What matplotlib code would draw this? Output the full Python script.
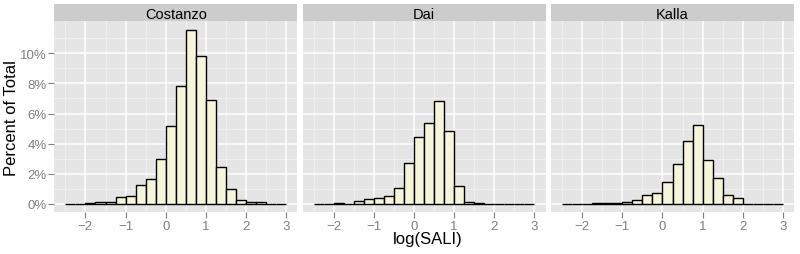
import matplotlib
matplotlib.use("Agg")
import matplotlib.pyplot as plt
from matplotlib.ticker import FuncFormatter

plt.rcParams['font.family'] = ['Liberation Sans', 'DejaVu Sans']

# bin left edges, width 0.25
bin_left = [-2.5, -2.25, -2.0, -1.75, -1.5, -1.25, -1.0, -0.75, -0.5, -0.25,
            0.0, 0.25, 0.5, 0.75, 1.0, 1.25, 1.5, 1.75, 2.0, 2.25, 2.5, 2.75]
bin_width = 0.25

panels = ["Costanzo", "Dai", "Kalla"]
costanzo = [0, 0, 0.03, 0.13, 0.13, 0.44, 0.51, 1.22, 1.64, 2.96, 5.2,
            7.82, 11.56, 9.82, 6.93, 2.42, 0.98, 0.22, 0.09, 0.13, 0, 0]
dai = [0, 0, 0.04, 0, 0.18, 0.29, 0.4, 0.49, 1.04, 2.69, 4.44,
       5.38, 6.8, 4.82, 1.16, 0.09, 0.04, 0, 0, 0, 0, 0]
kalla = [0, 0, 0, 0.02, 0.04, 0.04, 0.13, 0.22, 0.58, 0.69, 1.42,
         2.64, 4.18, 5.22, 2.93, 1.71, 0.6, 0.36, 0, 0, 0, 0]
series = [costanzo, dai, kalla]

x_ticks = [-2, -1, 0, 1, 2, 3]
x_minor = [-2.5, -1.5, -0.5, 0.5, 1.5, 2.5]
y_ticks = [0, 2, 4, 6, 8, 10]
y_minor = [1, 3, 5, 7, 9, 11]

W, H = 800, 255
fig = plt.figure(figsize=(8, 2.55), dpi=100)

panel_left = [54.3, 302.5, 551]
panel_w = 243
top, bottom, strip_top = 22.3, 213.3, 5

grey50 = "#7F7F7F"

for i, name in enumerate(panels):
    x0 = panel_left[i]
    ax = fig.add_axes([x0 / W, (H - bottom) / H, panel_w / W, (bottom - top) / H])
    ax.set_facecolor("#E5E5E5")
    for s in ax.spines.values():
        s.set_visible(False)

    # grille
    for v in x_minor:
        ax.axvline(v, color="#F2F2F2", lw=0.6, zorder=0)
    for v in y_minor:
        ax.axhline(v, color="#F2F2F2", lw=0.6, zorder=0)
    for v in x_ticks:
        ax.axvline(v, color="white", lw=1.1, zorder=0.5)
    for v in y_ticks:
        ax.axhline(v, color="white", lw=1.1, zorder=0.5)

    ax.bar(bin_left, series[i], width=bin_width, align='edge',
           color="#F5F5DC", edgecolor="black", linewidth=1.0, zorder=2)

    ax.set_xlim(-2.775, 3.275)
    ax.set_ylim(-0.578, 12.14)
    ax.set_xticks(x_ticks)
    ax.set_xticklabels(["\u22122", "\u22121", "0", "1", "2", "3"])
    ax.set_yticks(y_ticks)
    ax.yaxis.set_major_formatter(FuncFormatter(lambda v, p: "%d%%" % v))
    ax.tick_params(axis='both', colors=grey50, labelcolor=grey50, labelsize=9.5,
                   length=4, width=0.8, direction='out', pad=1.5)
    if i > 0:
        ax.tick_params(axis='y', left=False, labelleft=False)

    # bandeau du panneau
    sax = fig.add_axes([x0 / W, (H - top) / H, panel_w / W, (top - strip_top) / H])
    sax.set_facecolor("#CCCCCC")
    sax.set_xticks([])
    sax.set_yticks([])
    for s in sax.spines.values():
        s.set_visible(False)
    sax.text(0.5, 0.45, name, ha='center', va='center', fontsize=10.5,
             color="black", transform=sax.transAxes)

fig.text(428 / W, 1 - 232.5 / H, "log(SALI)", ha='center', va='top', fontsize=12)
fig.text(12 / W, 1 - 118 / H, "Percent of Total", ha='center', va='center',
         rotation=90, fontsize=12)

fig.savefig("out.png", dpi=100, facecolor="white")
